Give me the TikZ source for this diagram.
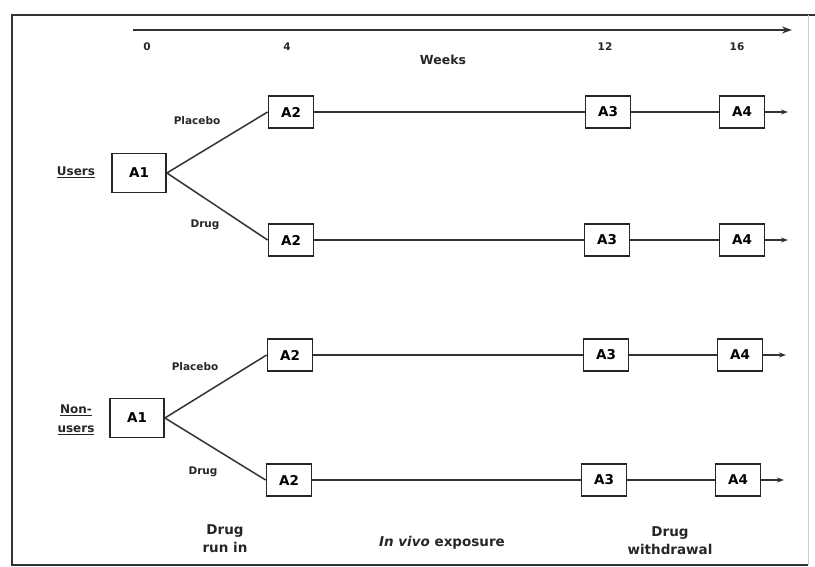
\documentclass[tikz,border=0pt]{standalone}
\usepackage{fontspec}
\setmainfont{DejaVu Sans}
\usetikzlibrary{arrows.meta}
\begin{document}
\begin{tikzpicture}[x=1pt,y=-1pt,
  box/.style={draw=black!85,line width=1.8pt,minimum width=45pt,minimum height=32pt,inner sep=0pt,font=\fontsize{13.5}{14}\selectfont\bfseries},
  bigbox/.style={box,minimum width=54pt,minimum height=39pt},
  conn/.style={draw=black!80,line width=1.5pt},
  lab/.style={font=\fontsize{10.5}{11}\selectfont\bfseries,text=black!85},
  big/.style={font=\fontsize{13.5}{18}\selectfont\bfseries,text=black!85,align=center},
  outarrow/.style={conn,-{Stealth[length=7pt,width=5pt]}}]
\useasboundingbox (0,0) rectangle (815,567);
% frame
\draw[black!80,line width=2pt] (815,15) -- (12,15) -- (12,565) -- (808,565);
\draw[black!20,line width=1pt] (808,15) -- (808,565);
% time axis
\coordinate (ax0) at (133,30);
\coordinate (ax1) at (792,30);
\draw[black!80,line width=2.6pt,-{Stealth[length=10pt,width=7pt]}] (ax0) -- (ax1);
\node[lab] (t0) at (147,47) {0};
\node[lab] (t4) at (287,47) {4};
\node[lab] (t12) at (605,47) {12};
\node[lab] (t16) at (737,47) {16};
\node[lab,font=\fontsize{12.5}{13}\selectfont\bfseries] (wk) at (443,60) {Weeks};
% row boxes
\foreach \r/\y/\a/\b/\c in {1/112/291/608/742, 2/240/291/607/742, 3/355/290/606/740, 4/480/289/604/738}{
  \node[box] (a2r\r) at (\a,\y) {A2};
  \node[box] (a3r\r) at (\b,\y) {A3};
  \node[box] (a4r\r) at (\c,\y) {A4};
  \coordinate (endr\r) at (\c+46,\y);
  \draw[conn] (a2r\r) -- (a3r\r);
  \draw[conn] (a3r\r) -- (a4r\r);
  \draw[outarrow] (a4r\r) -- (endr\r);
}
% A1 boxes
\node[bigbox] (a1u) at (139,173) {A1};
\node[bigbox] (a1n) at (137,418) {A1};
\draw[conn] (a1u.east) -- (a2r1.west);
\draw[conn] (a1u.east) -- (a2r2.west);
\draw[conn] (a1n.east) -- (a2r3.west);
\draw[conn] (a1n.east) -- (a2r4.west);
% group labels
\node[lab,font=\fontsize{12}{13}\selectfont\bfseries] (users) at (76,172) {\underline{Users}};
\node[lab,font=\fontsize{12}{19}\selectfont\bfseries,align=center] (nonusers) at (76,420) {\underline{Non-}\\\underline{users}};
% branch labels
\node[lab] (pl1) at (197,121) {Placebo};
\node[lab] (dr1) at (205,225) {Drug};
\node[lab] (pl2) at (195,367) {Placebo};
\node[lab] (dr2) at (203,472) {Drug};
% bottom labels
\node[big] (runin) at (225,539) {Drug\\run in};
\node[big] (vivo) at (442,543) {\textit{In vivo} exposure};
\node[big] (withdr) at (670,541) {Drug\\withdrawal};
\end{tikzpicture}
\end{document}
